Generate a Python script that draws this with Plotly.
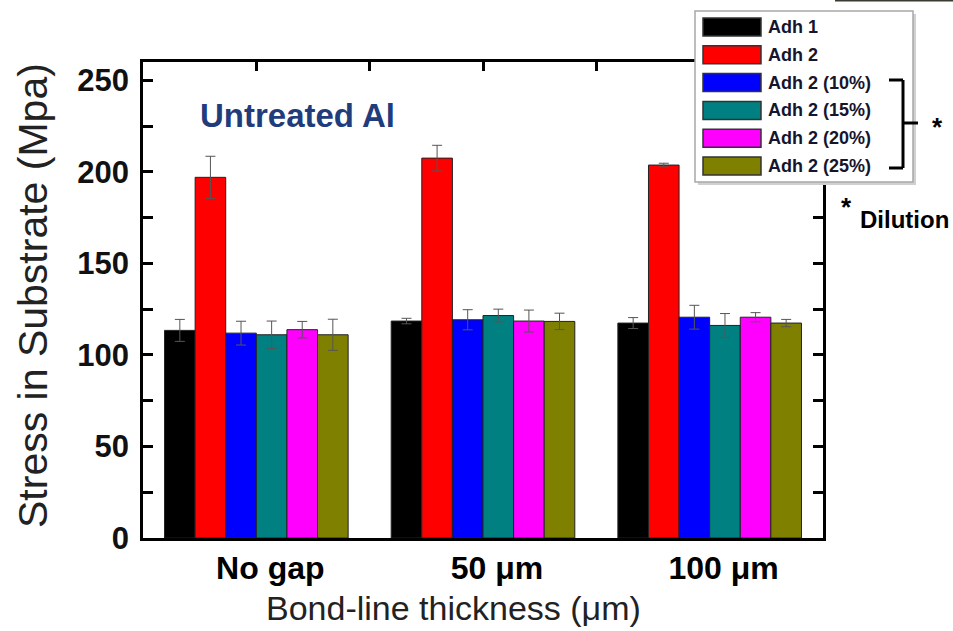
import plotly.graph_objects as go

# ---- data -------------------------------------------------------------
categories = ["No gap", "50 μm", "100 μm"]
series_names = ["Adh 1", "Adh 2", "Adh 2 (10%)", "Adh 2 (15%)", "Adh 2 (20%)", "Adh 2 (25%)"]
series_colors = ["#000000", "#ff0000", "#0000ff", "#008080", "#ff00ff", "#808000"]

adh1 = [113.4, 118.5, 117.4]
adh2 = [197.0, 207.5, 203.7]
adh2_10 = [111.9, 119.2, 120.6]
adh2_15 = [111.0, 121.5, 116.1]
adh2_20 = [113.8, 118.5, 120.6]
adh2_25 = [111.0, 118.3, 117.4]

adh1_err = [6.0, 1.5, 3.0]
adh2_err = [11.5, 7.0, 1.0]
adh2_10_err = [6.5, 5.5, 6.5]
adh2_15_err = [7.5, 3.5, 6.5]
adh2_20_err = [4.5, 6.0, 2.5]
adh2_25_err = [8.5, 4.5, 2.0]

y_ticks = [0, 50, 100, 150, 200, 250]
y_minor = [25, 75, 125, 175, 225]

series_values = [adh1, adh2, adh2_10, adh2_15, adh2_20, adh2_25]
series_errors = [adh1_err, adh2_err, adh2_10_err, adh2_15_err, adh2_20_err, adh2_25_err]

# ---- layout geometry (pixels) -----------------------------------------
W, H = 953, 631
ML, MR, MT, MB = 143, 130, 62, 93
PW, PH = W - ML - MR, H - MT - MB
FONT = "Arial, Liberation Sans, sans-serif"


def px_x(x):
    return (x - ML) / PW


def px_y(y):
    return (H - MB - y) / PH


fig = go.Figure()
for name, color, vals, errs in zip(series_names, series_colors, series_values, series_errors):
    fig.add_trace(go.Bar(
        x=categories, y=vals, name=name,
        marker=dict(color=color, line=dict(color="#222222", width=1)),
        error_y=dict(type="data", array=errs, visible=True,
                     color="#555555", thickness=1, width=5),
        showlegend=False,
    ))

# top axis carrying only the inward tick marks
fig.add_trace(go.Scatter(x=[0], y=[0], xaxis="x2", mode="markers",
                         marker=dict(opacity=0), showlegend=False, hoverinfo="skip"))

shapes = []
annotations = []

# legend box with a soft shadow
lx0, lx1, ly0, ly1 = 695, 913, 11, 182
shapes.append(dict(type="rect", xref="paper", yref="paper",
                   x0=px_x(lx0 + 3), x1=px_x(lx1 + 3), y0=px_y(ly0 + 3), y1=px_y(ly1 + 3),
                   line=dict(width=0), fillcolor="#d0d0d0", layer="above"))
shapes.append(dict(type="rect", xref="paper", yref="paper",
                   x0=px_x(lx0), x1=px_x(lx1), y0=px_y(ly0), y1=px_y(ly1),
                   line=dict(color="#a8a8a8", width=1.5), fillcolor="white", layer="above"))

row_top, row_step = 27, 27.8
for i, (name, color) in enumerate(zip(series_names, series_colors)):
    cy = row_top + i * row_step
    shapes.append(dict(type="rect", xref="paper", yref="paper",
                       x0=px_x(703), x1=px_x(761), y0=px_y(cy + 9), y1=px_y(cy - 9),
                       line=dict(color="#333333", width=1.5), fillcolor=color, layer="above"))
    annotations.append(dict(text=name, xref="paper", yref="paper",
                            x=px_x(766), y=px_y(cy), xanchor="left", yanchor="middle",
                            showarrow=False,
                            font=dict(family=FONT, size=18, color="#15152e", weight="bold")))

# bracket grouping the diluted series
bk = dict(color="black", width=3)
for (x0, y0, x1, y1) in [(889, 80, 903, 80), (903, 80, 903, 168), (889, 168, 903, 168), (903, 123, 918, 123)]:
    shapes.append(dict(type="line", xref="paper", yref="paper",
                       x0=px_x(x0), y0=px_y(y0), x1=px_x(x1), y1=px_y(y1), line=bk, layer="above"))

# thin dark rule at the very top right
shapes.append(dict(type="line", xref="paper", yref="paper",
                   x0=px_x(835), x1=px_x(953), y0=px_y(0.5), y1=px_y(0.5),
                   line=dict(color="#3a3a30", width=2), layer="above"))

annotations += [
    dict(text="*", xref="paper", yref="paper", x=px_x(937), y=px_y(127),
         showarrow=False, xanchor="center", yanchor="middle",
         font=dict(family=FONT, size=26, color="black", weight="bold")),
    dict(text="*", xref="paper", yref="paper", x=px_x(846), y=px_y(207),
         showarrow=False, xanchor="center", yanchor="middle",
         font=dict(family=FONT, size=26, color="black", weight="bold")),
    dict(text="Dilution", xref="paper", yref="paper", x=px_x(951), y=px_y(219),
         showarrow=False, xanchor="right", yanchor="middle",
         font=dict(family=FONT, size=24, color="black", weight="bold")),
    dict(text="Untreated Al", xref="paper", yref="paper", x=px_x(198), y=px_y(115),
         showarrow=False, xanchor="left", yanchor="middle",
         font=dict(family=FONT, size=33, color="#1f3c7c", weight="bold")),
    dict(text="Bond-line thickness (μm)", xref="paper", yref="paper", x=px_x(453), y=px_y(608),
         showarrow=False, xanchor="center", yanchor="middle",
         font=dict(family=FONT, size=34, color="#222222")),
    dict(text="Stress in Substrate (Mpa)", xref="paper", yref="paper", x=px_x(33), y=px_y(296),
         showarrow=False, xanchor="center", yanchor="middle", textangle=-90,
         font=dict(family=FONT, size=41, color="#222222")),
]

fig.update_layout(
    width=W, height=H,
    margin=dict(l=ML, r=MR, t=MT, b=MB),
    paper_bgcolor="white", plot_bgcolor="white",
    barmode="group", bargap=0.19, bargroupgap=0,
    showlegend=False,
    shapes=shapes, annotations=annotations,
    xaxis=dict(
        range=[-0.5, 2.5], showgrid=False, zeroline=False,
        showline=True, linecolor="black", linewidth=2.5, mirror=True,
        ticks="", ticklabelshift=14, ticklabelstandoff=0,
        tickfont=dict(family=FONT, size=32, color="black", weight="bold"),
    ),
    xaxis2=dict(
        overlaying="x", side="top", type="linear", range=[-0.5, 2.5],
        tickvals=[0, 0.5, 1, 1.5, 2], ticks="inside", ticklen=9, tickwidth=2.5,
        tickcolor="black", showticklabels=False, showgrid=False, zeroline=False, showline=False,
    ),
    yaxis=dict(
        range=[0, 260], tickvals=y_ticks, ticks="inside", ticklen=10, tickwidth=2.5,
        tickcolor="black", showgrid=False, zeroline=False,
        showline=True, linecolor="black", linewidth=2.5, mirror="allticks",
        minor=dict(tickvals=y_minor, ticks="inside", ticklen=7, tickwidth=2.5, tickcolor="black"),
        tickfont=dict(family=FONT, size=31, color="#111111", weight="bold"),
        ticklabelstandoff=5,
    ),
)

fig.write_html("out.html")
